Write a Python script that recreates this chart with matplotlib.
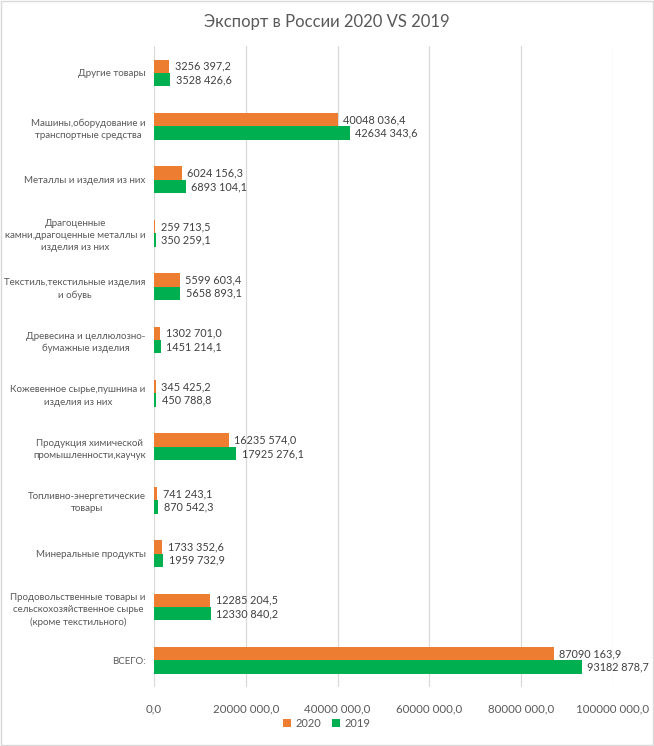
import matplotlib
matplotlib.use("Agg")
import matplotlib.pyplot as plt
import numpy as np

categories = [
    "Другие товары",
    "Машины,оборудование и\nтранспортные средства",
    "Металлы и изделия из них",
    "Драгоценные\nкамни,драгоценные металлы и\nизделия из них",
    "Текстиль,текстильные изделия\nи обувь",
    "Древесина и целлюлозно-\nбумажные изделия",
    "Кожевенное сырье,пушнина и\nизделия из них",
    "Продукция химической\nпромышленности,каучук",
    "Топливно-энергетические\nтовары",
    "Минеральные продукты",
    "Продовольственные товары и\nсельскохозяйственное сырье\n(кроме текстильного)",
    "ВСЕГО:",
]
values_2020 = [3256397.2, 40048036.4, 6024156.3, 259713.5, 5599603.4, 1302701.0,
               345425.2, 16235574.0, 741243.1, 1733352.6, 12285204.5, 87090163.9]
values_2019 = [3528426.6, 42634343.6, 6893104.1, 350259.1, 5658893.1, 1451214.1,
               450788.8, 17925276.1, 870542.3, 1959732.9, 12330840.2, 93182878.7]
xticks = [0, 20000000, 40000000, 60000000, 80000000, 100000000]

orange = "#ED7D31"
green = "#00B050"
grey = "#595959"


def fmt(v):
    # excel-style "# ##0,0"
    s = f"{v:.1f}"
    ip, dp = s.split(".")
    ip = int(ip)
    if ip >= 1000:
        return f"{ip // 1000} {ip % 1000:03d},{dp}"
    return f"{ip},{dp}"


plt.rcParams['font.family'] = ['Lato', 'DejaVu Sans']

fig = plt.figure(figsize=(6.54, 7.46), dpi=100)
ax = fig.add_axes([0.2355, 0.079, 0.7015, 0.859])

y = np.arange(len(categories))
h = 0.25
b1 = ax.barh(y - h / 2, values_2020, height=h, color=orange, label="2020", zorder=3)
b2 = ax.barh(y + h / 2, values_2019, height=h, color=green, label="2019", zorder=3)

for bars, vals in ((b1, values_2020), (b2, values_2019)):
    for bar, v in zip(bars, vals):
        ax.annotate(fmt(v), (v, bar.get_y() + bar.get_height() / 2),
                    xytext=(4, 0), textcoords="offset points",
                    va="center", ha="left", fontsize=7.8, color="#404040")

ax.set_ylim(len(categories) - 0.5, -0.5)
ax.set_xlim(0, 100000000)
ax.set_xticks(xticks)
ax.set_xticklabels([fmt(t) for t in xticks], fontsize=8.3, color=grey)
ax.set_yticks(y)
ax.set_yticklabels(categories, fontsize=7.0, color=grey, multialignment="center",
                   linespacing=1.45)
ax.tick_params(length=0, pad=6)
ax.tick_params(axis="x", pad=12)
ax.grid(axis="x", color="#D9D9D9", linewidth=0.9, zorder=0)
for s in ax.spines.values():
    s.set_visible(False)

fig.text(0.5, 0.97, "Экспорт в России 2020 VS 2019", ha="center", va="center",
         fontsize=12, color=grey)

fig.legend(loc="center", bbox_to_anchor=(0.5, 0.03), ncol=2, frameon=False,
           fontsize=8, handlelength=0.7, handleheight=0.7, handletextpad=0.4,
           columnspacing=1.0, labelcolor=grey)

fig.patches.append(plt.Rectangle((0.002, 0.002), 0.996, 0.996, transform=fig.transFigure,
                                 fill=False, edgecolor="#D9D9D9", linewidth=1))

fig.savefig("out.png", dpi=100)
